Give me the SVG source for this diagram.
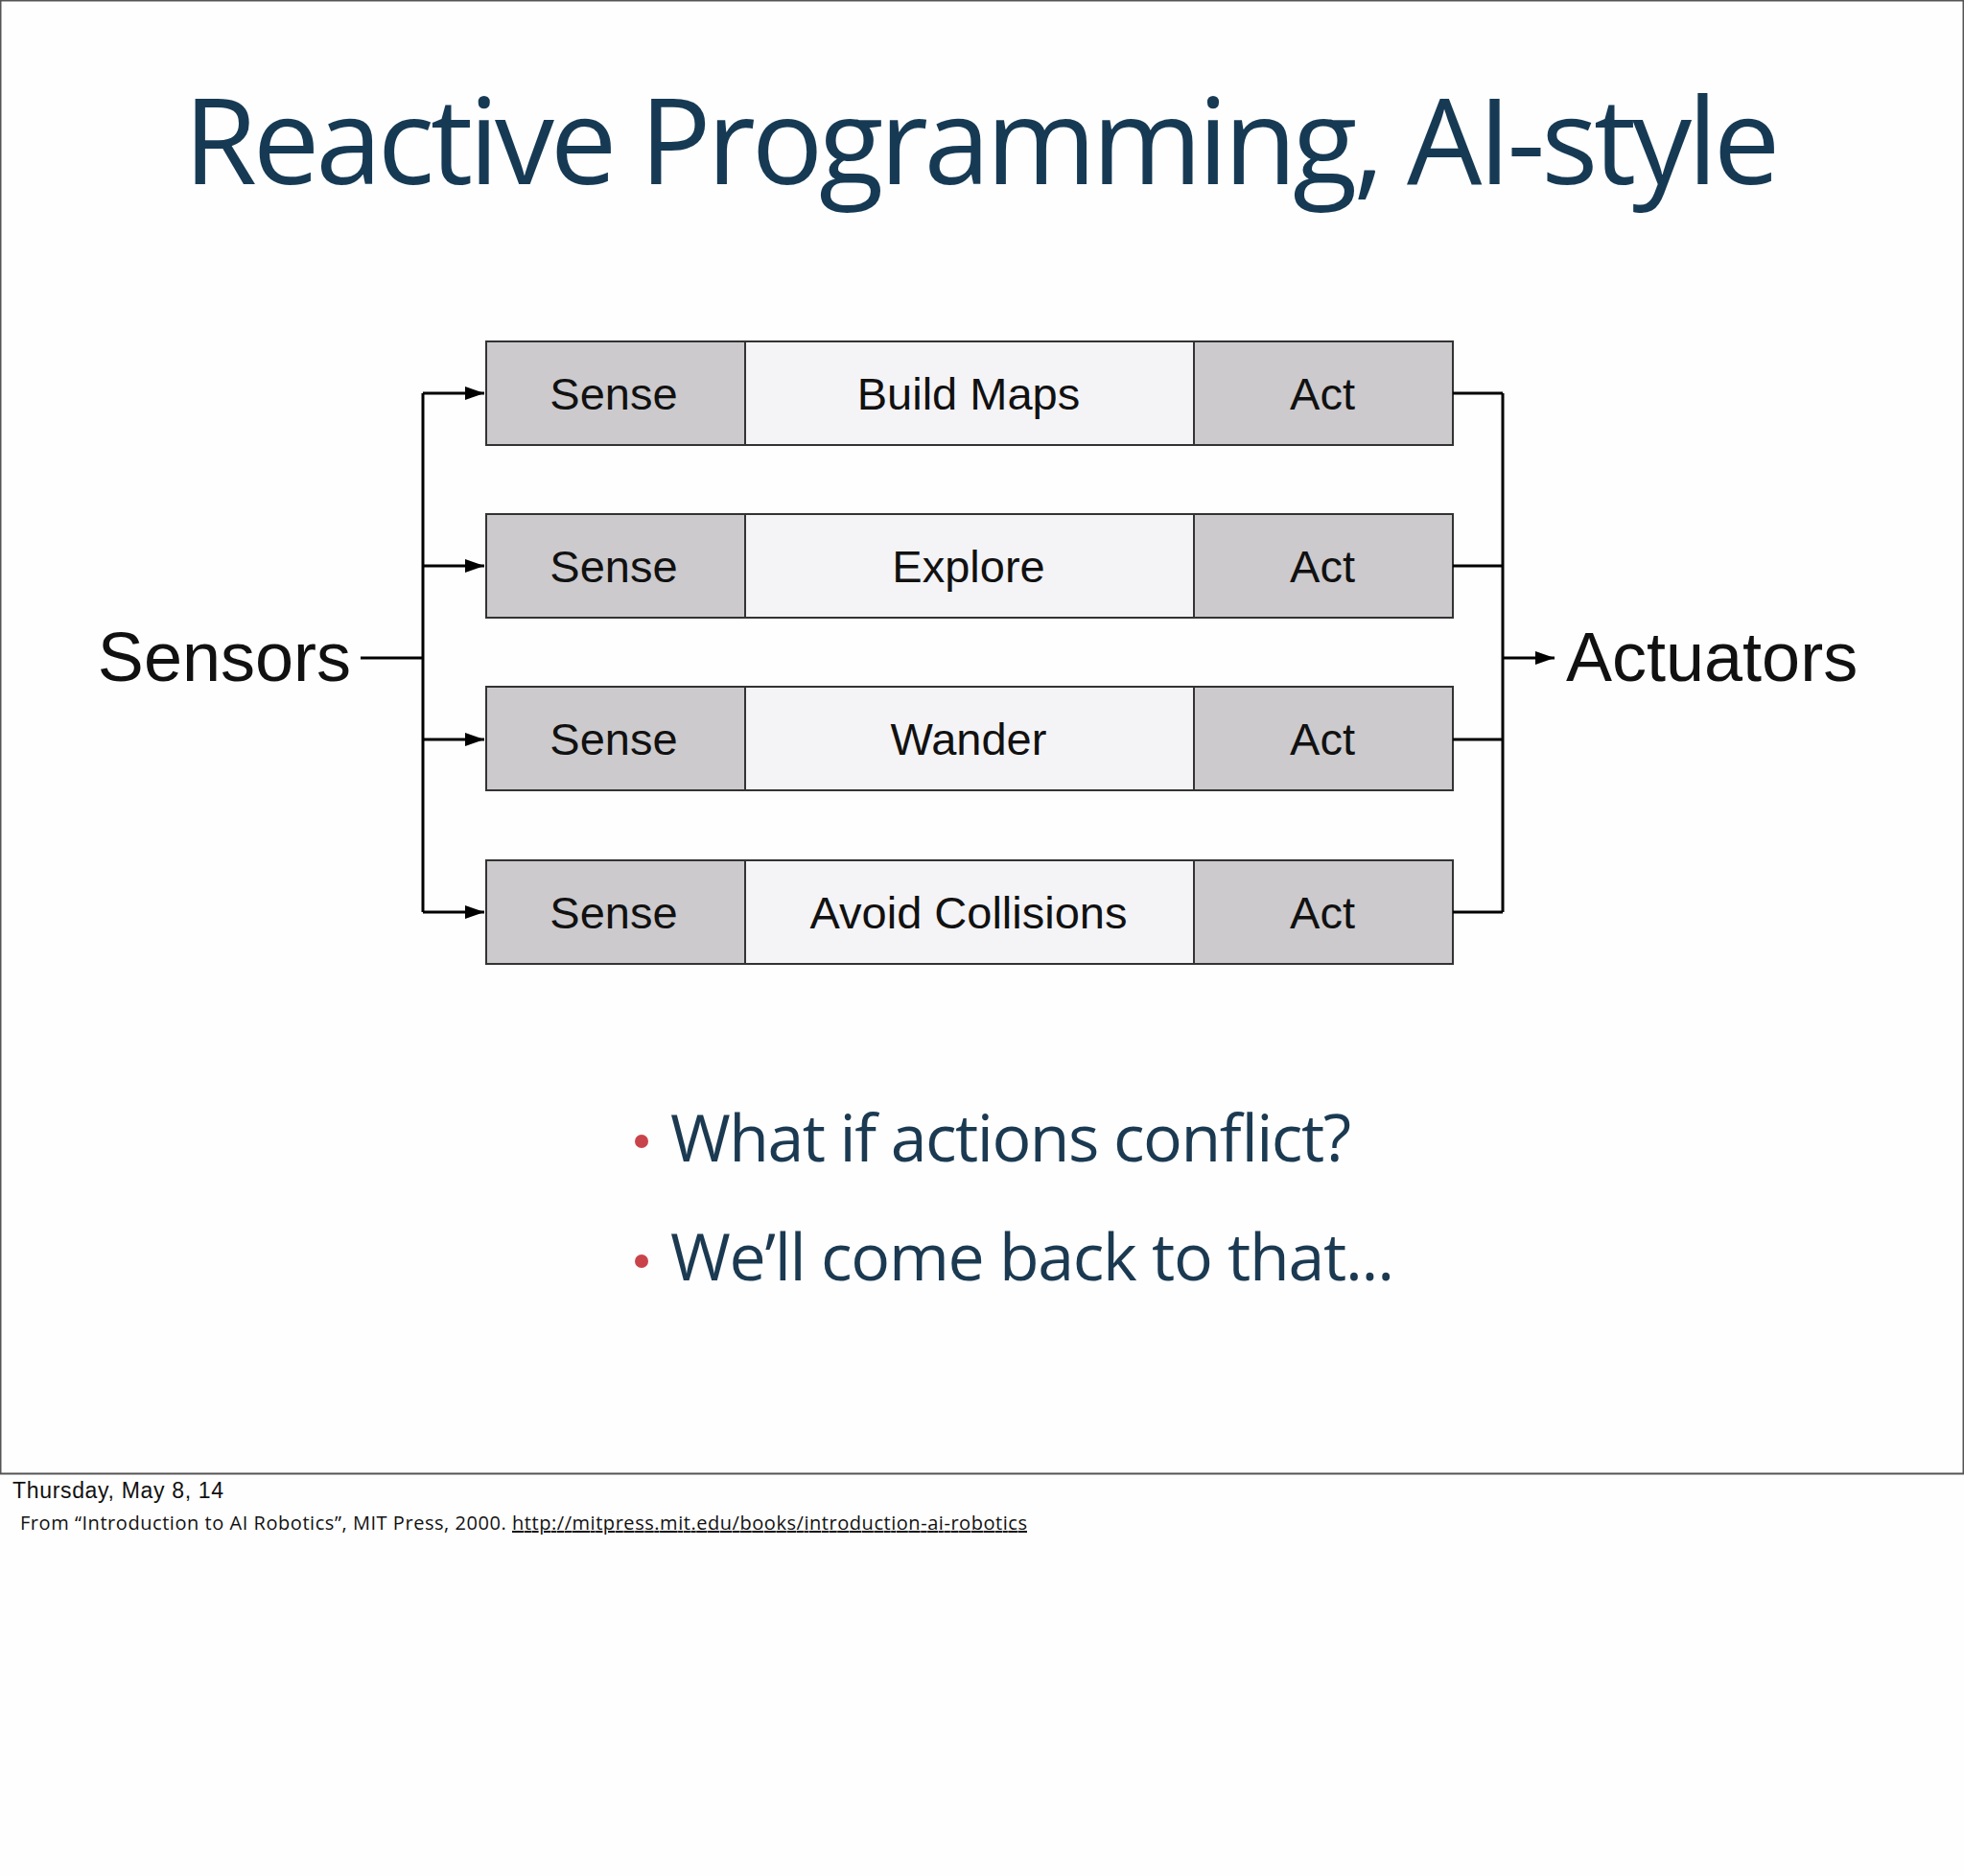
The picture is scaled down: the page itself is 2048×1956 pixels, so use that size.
<svg xmlns="http://www.w3.org/2000/svg" width="2048" height="1956" viewBox="0 0 2048 1956">
<style>
.g{fill:#cccacd;stroke:#333;stroke-width:2}
.w{fill:#f4f3f6;stroke:#333;stroke-width:2}
.t{font-family:"Liberation Sans",Arial,sans-serif;font-size:47px;fill:#111;text-anchor:middle}
.c{fill:none;stroke:#000;stroke-width:3}
.b{font-family:"Open Sans","Noto Sans",sans-serif;font-size:68px;fill:#1b3a52}
</style>
<defs><marker id="a" markerWidth="20" markerHeight="14" refX="20" refY="7" orient="auto" markerUnits="userSpaceOnUse" viewBox="0 0 20 14"><path d="M0,0L20,7L0,14z" fill="#000"/></marker></defs>
<rect width="2048" height="1956" fill="#fefefe"/>
<rect x="0.5" y="0.5" width="2047" height="1536" fill="none" stroke="#555" stroke-width="2"/>
<text x="1024" y="192" text-anchor="middle" font-family="Open Sans,Noto Sans,sans-serif" font-size="124" fill="#173a54" textLength="1665">Reactive Programming, AI-style</text>
<g id="row1"><rect class="g" x="507" y="356" width="270" height="108"/><rect class="w" x="777" y="356" width="468" height="108"/><rect class="g" x="1245" y="356" width="270" height="108"/><text class="t" x="640" y="427">Sense</text><text class="t" x="1010" y="427">Build Maps</text><text class="t" x="1379" y="427">Act</text></g>
<g id="row2"><rect class="g" x="507" y="536" width="270" height="108"/><rect class="w" x="777" y="536" width="468" height="108"/><rect class="g" x="1245" y="536" width="270" height="108"/><text class="t" x="640" y="607">Sense</text><text class="t" x="1010" y="607">Explore</text><text class="t" x="1379" y="607">Act</text></g>
<g id="row3"><rect class="g" x="507" y="716" width="270" height="108"/><rect class="w" x="777" y="716" width="468" height="108"/><rect class="g" x="1245" y="716" width="270" height="108"/><text class="t" x="640" y="787">Sense</text><text class="t" x="1010" y="787">Wander</text><text class="t" x="1379" y="787">Act</text></g>
<g id="row4"><rect class="g" x="507" y="897" width="270" height="108"/><rect class="w" x="777" y="897" width="468" height="108"/><rect class="g" x="1245" y="897" width="270" height="108"/><text class="t" x="640" y="968">Sense</text><text class="t" x="1010" y="968">Avoid Collisions</text><text class="t" x="1379" y="968">Act</text></g>
<g id="sensors"><text x="366" y="710" text-anchor="end" font-family="Liberation Sans,Arial,sans-serif" font-size="72" fill="#111">Sensors</text></g>
<g id="actuators"><text x="1633" y="710" font-family="Liberation Sans,Arial,sans-serif" font-size="72" fill="#111">Actuators</text></g>
<g id="connectors">
<path class="c" d="M376,686H441M441,410V951"/>
<path class="c" d="M441,410H505" marker-end="url(#a)"/>
<path class="c" d="M441,590H505" marker-end="url(#a)"/>
<path class="c" d="M441,771H505" marker-end="url(#a)"/>
<path class="c" d="M441,951H505" marker-end="url(#a)"/>
<path class="c" d="M1515,410H1567M1515,590H1567M1515,771H1567M1515,951H1567M1567,410V951"/>
<path class="c" d="M1567,686H1621" marker-end="url(#a)"/>
</g>
<circle cx="669" cy="1190" r="7" fill="#c9444a"/>
<circle cx="669" cy="1315" r="7" fill="#c9444a"/>
<text class="b" x="699" y="1211" textLength="710">What if actions conflict?</text>
<text class="b" x="699" y="1335" textLength="755">We’ll come back to that...</text>
<text x="13" y="1562" font-family="Liberation Sans,Arial,sans-serif" font-size="23" fill="#111" textLength="220">Thursday, May 8, 14</text>
<text x="21" y="1595" font-family="Open Sans,Noto Sans,sans-serif" font-size="20" fill="#111" textLength="1050">From “Introduction to AI Robotics”, MIT Press, 2000. <tspan text-decoration="underline">http://mitpress.mit.edu/books/introduction-ai-robotics</tspan></text>
</svg>
